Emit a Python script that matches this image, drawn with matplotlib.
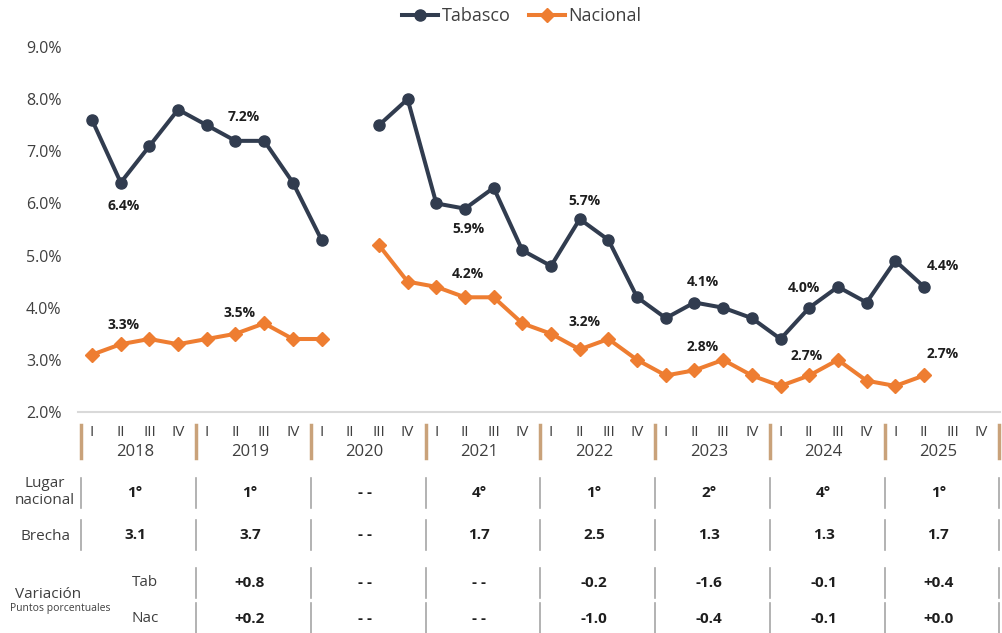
import numpy as np
import matplotlib
matplotlib.use("Agg")
import matplotlib.pyplot as plt
from matplotlib import transforms
from matplotlib.lines import Line2D

plt.rcParams['font.family'] = ['Open Sans', 'DejaVu Sans']

# Data
years = ["2018", "2019", "2020", "2021", "2022", "2023", "2024", "2025"]
quarters = ["I", "II", "III", "IV"]
nan = np.nan
tabasco = [7.6, 6.4, 7.1, 7.8, 7.5, 7.2, 7.2, 6.4,
           5.3, nan, 7.5, 8.0, 6.0, 5.9, 6.3, 5.1,
           4.8, 5.7, 5.3, 4.2, 3.8, 4.1, 4.0, 3.8,
           3.4, 4.0, 4.4, 4.1, 4.9, 4.4, nan, nan]
nacional = [3.1, 3.3, 3.4, 3.3, 3.4, 3.5, 3.7, 3.4,
            3.4, nan, 5.2, 4.5, 4.4, 4.2, 4.2, 3.7,
            3.5, 3.2, 3.4, 3.0, 2.7, 2.8, 3.0, 2.7,
            2.5, 2.7, 3.0, 2.6, 2.5, 2.7, nan, nan]

# labelled points: (index, x offset px, y offset px)
tab_labels = [(1, 3, -23), (5, 8, 24), (13, 3, -20), (17, 5, 18),
              (21, 8, 20), (25, -5, 20), (29, 19, 21)]
nac_labels = [(1, 3, 19), (5, 4, 21), (13, 3, 23), (17, 5, 27),
              (21, 8, 23), (25, -3, 20), (29, 19, 22)]

lugar = ["1°", "1°", "--", "4°", "1°", "2°", "4°", "1°"]
brecha = ["3.1", "3.7", "--", "1.7", "2.5", "1.3", "1.3", "1.7"]
var_tab = ["", "+0.8", "--", "--", "-0.2", "-1.6", "-0.1", "+0.4"]
var_nac = ["", "+0.2", "--", "--", "-1.0", "-0.4", "-0.1", "+0.0"]

W, H = 1003, 633
navy = "#313C4F"
orange = "#EE7D31"
tan = "#C9A27A"
txt = "#3F3F3F"


def fy(y):
    return 1 - y / H


fig = plt.figure(figsize=(W / 100, H / 100), dpi=100)
ax = fig.add_axes([78 / W, fy(412), 922 / W, 365 / H])

x = np.arange(len(tabasco))
ax.plot(x, tabasco, color=navy, lw=2.9, marker="o", ms=8, label="Tabasco")
ax.plot(x, nacional, color=orange, lw=2.9, marker="D", ms=7.5, label="Nacional")

ax.set_xlim(-0.49, 31.65)
ax.set_ylim(2, 9)
ax.set_yticks(np.arange(2, 9.1, 1))
ax.set_yticklabels([f"{v:.1f}%" for v in np.arange(2, 9.1, 1)], fontsize=11.5, color=txt)
ax.tick_params(axis="y", length=0, pad=12)
ax.set_xticks([])
for s in ["top", "right", "left"]:
    ax.spines[s].set_visible(False)
ax.spines["bottom"].set_color("#D9D9D9")
ax.spines["bottom"].set_linewidth(1.5)

for i, dx, dy in tab_labels:
    ax.annotate(f"{tabasco[i]:.1f}%", (x[i], tabasco[i]), xytext=(dx * 0.72, dy * 0.72),
                textcoords="offset points", ha="center", va="center",
                fontsize=10, fontweight="bold", color="#1E1E1E")
for i, dx, dy in nac_labels:
    ax.annotate(f"{nacional[i]:.1f}%", (x[i], nacional[i]), xytext=(dx * 0.72, dy * 0.72),
                textcoords="offset points", ha="center", va="center",
                fontsize=10, fontweight="bold", color="#1E1E1E")

# x axis: quarters, years and separators
tr = transforms.blended_transform_factory(ax.transData, fig.transFigure)
for k, yr in enumerate(years):
    for q, ql in enumerate(quarters):
        ax.text(4 * k + q, fy(432), ql, transform=tr, ha="center", va="center",
                fontsize=11, color=txt)
    ax.text(4 * k + 1.5, fy(452), yr, transform=tr, ha="center", va="center",
            fontsize=12, color=txt)
seps = [4 * k - 0.37 for k in range(len(years) + 1)]
for sx in seps:
    ax.add_line(Line2D([sx, sx], [fy(425), fy(458)], transform=tr, color=tan,
                       lw=2.5, clip_on=False))

# table
rows = [(lugar, 493, 478, 508, 0), (brecha, 535, 520, 550, 0),
        (var_tab, 583, 568, 598, 1), (var_nac, 619, 603, 633, 1)]
for vals, yc, y0, y1, start in rows:
    for k, v in enumerate(vals):
        if v:
            ax.text(4 * k + 1.5, fy(yc), v.replace("--", "- -"), transform=tr,
                    ha="center", va="center", fontsize=11, fontweight="bold",
                    color="#1E1E1E")
    for sx in seps[start:]:
        ax.add_line(Line2D([sx, sx], [fy(y0), fy(y1)], transform=tr, color="#A6A6A6",
                           lw=1.2, clip_on=False))

fig.text(45 / W, fy(492), "Lugar\nnacional", ha="center", va="center",
         fontsize=11, color=txt, linespacing=1.15)
fig.text(45 / W, fy(536), "Brecha", ha="center", va="center", fontsize=11, color=txt)
fig.text(48 / W, fy(594), "Variación", ha="center", va="center", fontsize=11, color=txt)
fig.text(60 / W, fy(608), "Puntos porcentuales", ha="center", va="center",
         fontsize=7.5, color=txt)
fig.text(145 / W, fy(582), "Tab", ha="center", va="center", fontsize=11, color=txt)
fig.text(145 / W, fy(618), "Nac", ha="center", va="center", fontsize=11, color=txt)

fig.legend(loc="center", bbox_to_anchor=(522 / W, fy(16)), ncol=2, frameon=False,
           fontsize=13, handlelength=2.0, handletextpad=0.2, columnspacing=1.0,
           labelcolor=txt)

fig.savefig("out.png", dpi=100)
